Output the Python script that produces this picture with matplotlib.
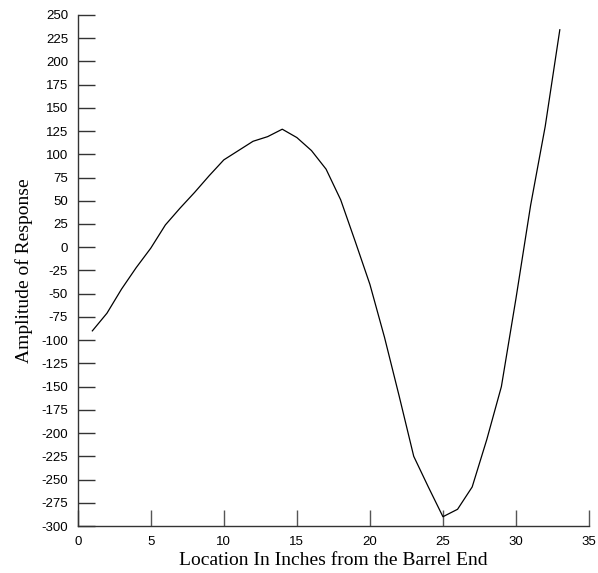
import matplotlib
matplotlib.use("Agg")
import matplotlib.pyplot as plt
import numpy as np

plt.rcParams["axes.unicode_minus"] = False

# location along barrel (inches) and response amplitude
location = [1, 2, 3, 4, 5, 6, 7, 8, 9, 10, 11, 12, 13, 14, 15, 16, 17,
            18, 19, 20, 21, 22, 23, 24, 25, 26, 27, 28, 29, 30, 31, 32, 33]
amplitude = [-90, -71, -45, -22, -1, 24, 42, 59, 77, 94, 104, 114, 119, 127,
             118, 104, 84, 51, 6, -40, -97, -160, -225, -258, -290, -282,
             -258, -207, -150, -55, 45, 130, 234]

x_ticks = np.arange(0, 36, 5)
y_ticks = np.arange(-300, 251, 25)

fig = plt.figure(figsize=(5.98, 5.73), dpi=100)
ax = fig.add_axes([0.130, 0.082, 0.855, 0.892])

ax.plot(location, amplitude, color="black", linewidth=0.9)

ax.set_xlim(0, 35)
ax.set_ylim(-300, 250)
ax.set_xticks(x_ticks)
ax.set_yticks(y_ticks)

for side in ("top", "right"):
    ax.spines[side].set_visible(False)
for side in ("left", "bottom"):
    ax.spines[side].set_color("#333333")
    ax.spines[side].set_linewidth(1.0)

ax.tick_params(axis="y", direction="in", length=12.5, width=1.0,
               color="#333333", pad=7)
ax.tick_params(axis="x", direction="in", length=11.5, width=1.0,
               color="#555555", pad=7)
for lab in ax.get_xticklabels() + ax.get_yticklabels():
    lab.set_fontfamily("Liberation Sans")
    lab.set_fontsize(9.5)

ax.set_xlabel("Location In Inches from the Barrel End",
              family="Liberation Serif", fontsize=14, labelpad=3)
ax.set_ylabel("Amplitude of Response",
              family="Liberation Serif", fontsize=14, labelpad=6)

fig.savefig("out.png", dpi=100)
